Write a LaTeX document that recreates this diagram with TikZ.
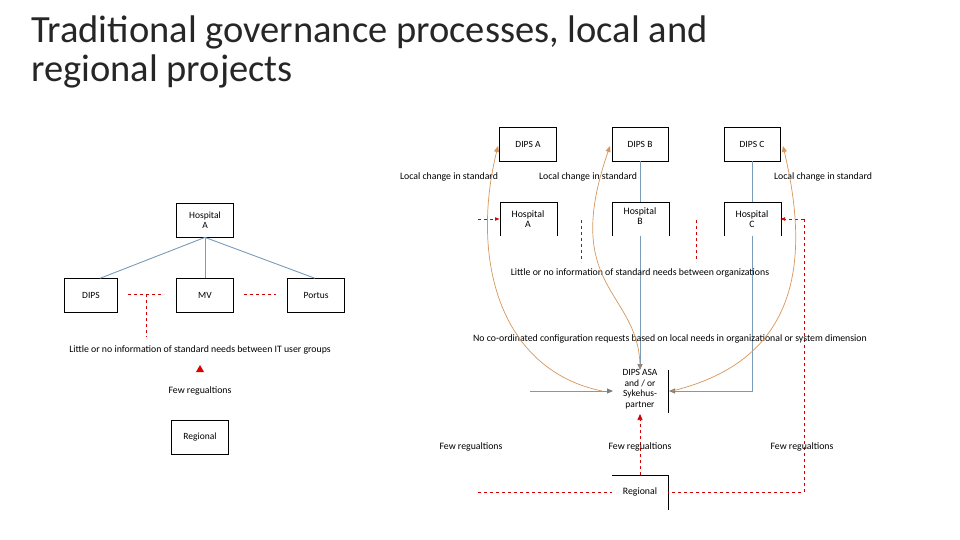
\documentclass[tikz,border=0pt]{standalone}
\usepackage{fontspec}
\setmainfont{Carlito}
\usetikzlibrary{arrows.meta}
\definecolor{sb}{RGB}{120,155,185}
\definecolor{org}{RGB}{215,150,90}
\begin{document}
\begin{tikzpicture}[x=1pt,y=-1pt,
 box/.style={draw,thick,minimum width=#1,minimum height=34pt,inner sep=0pt,font=\fontsize{9.5}{10.5}\selectfont,align=center},
 box/.default=57pt,
 lab/.style={font=\fontsize{9.8}{10.5}\selectfont,inner sep=1pt},
 blue/.style={draw=sb,line width=0.9pt},
 red/.style={draw=red!80!black,dashed,line width=0.7pt},
 org/.style={draw=org,line width=0.7pt,-{Triangle[length=6pt,width=5pt]}},
 tip/.style={-{Triangle[length=6pt,width=5pt,color=gray]}}]
\useasboundingbox (0,0) rectangle (960,540);
\node[anchor=north west,align=left,font=\fontsize{38.5}{39}\selectfont,inner sep=0pt,text=black!85] (title) at (31,16) {Traditional governance processes, local and\\regional projects};
% left
\node[box] (ha) at (205,220) {Hospital\\A};
\node[box=53pt] (dips) at (91,295) {DIPS};
\node[box] (mv) at (205,295) {MV};
\node[box] (portus) at (316,295) {Portus};
\draw[blue] (ha.south) -- (100,278.3);
\draw[blue] (ha.south) -- (mv.north);
\draw[blue] (ha.south) -- (315,278.3);
\draw[red] (128,294) -- (164,294);
\draw[red] (244,294) -- (276,294);
\coordinate (lj) at (146,294);
\coordinate (lb) at (146,337);
\draw[red] (lj) -- (lb);
\node[lab] (lit) at (200,350) {Little or no information of standard needs between IT user groups};
\node[lab] (few) at (200,391) {Few regualtions};
\fill[red!85!black] (196,372) -- (204,372) -- (200,365) -- cycle;
\node[box] (reg) at (200,437) {Regional};
% right top
\node[box] (da) at (528,144) {DIPS A};
\node[box=56pt] (db) at (640,144) {DIPS B};
\node[box=56pt] (dc) at (752,144) {DIPS C};
\node[lab] at (449,177) {Local change in standard};
\node[lab] at (588,177) {Local change in standard};
\node[lab] at (823,177) {Local change in standard};
\node[lab,align=center] (hra) at (528,219) {Hospital\\A};
\node[lab,align=center] (hrb) at (640,216) {Hospital\\B};
\node[lab,align=center] (hrc) at (752,219) {Hospital\\C};
\foreach \x in {500,612,724}{
 \draw[thick] (\x,236) -- (\x,202) -- (\x+57,202) -- (\x+57,236);}
\draw[blue] (db.south) -- (640,202);
\draw[blue] (dc.south) -- (752,202);
\node[lab,align=center,font=\fontsize{9.5}{10.5}\selectfont] (asa) at (640,389) {DIPS ASA\\and / or\\Sykehus-\\partner};
\draw[thick] (668,370) -- (668,413);
\draw[blue,tip] (640,236) -- (640,370);
\draw[blue,tip] (752,236) -- (752,391) -- (669,391);
\draw[blue,tip] (530,391) -- (613,391);
\draw[red,-{Latex[length=5pt]}] (478,219) -- (500,219);
\draw[red,-{Latex[length=5pt]}] (804,219) -- (780,219);
\node[lab] (reglab) at (640,492) {Regional};
\draw[thick] (612,475) -- (668,475) -- (668,510);
\draw[red] (804,219) -- (804,492) -- (668,492);
\draw[red] (478,492) -- (612,492);
\draw[red,-{Triangle[length=6pt,width=5pt]}] (640,475) -- (640,414);
\draw[red] (581,220) -- (581,262);
\draw[red] (696,220) -- (696,262);
\node[lab] at (640,273) {Little or no information of standard needs between organizations};
\node[lab] at (670,339) {No co-ordinated configuration requests based on local needs in organizational or system dimension};
\node[lab] at (471,447) {Few regualtions};
\node[lab] at (640,447) {Few regualtions};
\node[lab] at (802,447) {Few regualtions};
% orange curves
\draw[org] (602,391) .. controls (500,370) and (470,260) .. (498,146);
\draw[org] (640,368) .. controls (640,290) and (560,290) .. (610,146);
\draw[org] (672,391) .. controls (800,360) and (810,260) .. (783,146);
\end{tikzpicture}
\end{document}
